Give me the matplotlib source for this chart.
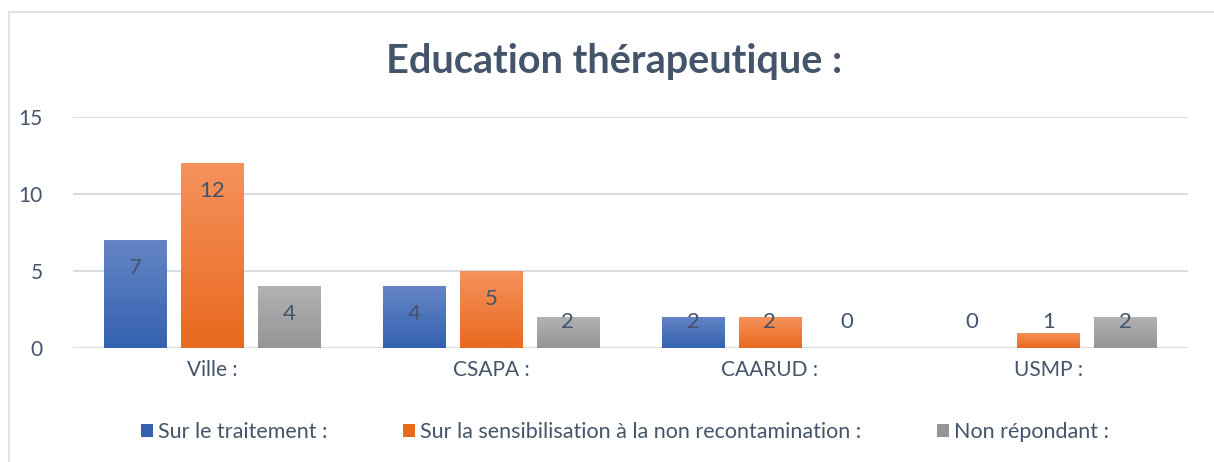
import numpy as np
import matplotlib.pyplot as plt
from matplotlib.patches import Rectangle, Patch
from matplotlib.colors import LinearSegmentedColormap

plt.rcParams['font.family'] = ['Lato', 'DejaVu Sans']

categories = ['Ville :', 'CSAPA :', 'CAARUD :', 'USMP :']
series_names = ['Sur le traitement :',
                'Sur la sensibilisation à la non recontamination :',
                'Non répondant :']
traitement = [7, 4, 2, 0]
sensibilisation = [12, 5, 2, 1]
non_repondant = [4, 2, 0, 2]
series = [traitement, sensibilisation, non_repondant]

# couleurs haut / bas du dégradé
grads = [('#6584C6', '#3462B0'), ('#F5925C', '#E9691F'), ('#B2B2B4', '#959597')]
solid = ['#4472C4', '#ED7D31', '#A5A5A5']
txt = '#44546A'

fig = plt.figure(figsize=(12.14, 4.62), dpi=100)
fig.patches.append(Rectangle((9 / 1214, -0.1), 1.1, (462 - 12) / 462 + 0.1,
                             transform=fig.transFigure, fill=False,
                             edgecolor='#D9DDE3', linewidth=1.2))
ax = fig.add_axes([73 / 1214, 1 - 348 / 462, 1115 / 1214, 231 / 462])

x = np.arange(len(categories))
w = 0.225
off = 0.2755
for i, vals in enumerate(series):
    bars = ax.bar(x + (i - 1) * off, vals, w, color=solid[i], zorder=2)
    cmap = LinearSegmentedColormap.from_list('g%d' % i, [grads[i][1], grads[i][0]])
    for b, v in zip(bars, vals):
        if v == 0:
            continue
        b.set_facecolor('none')
        im = ax.imshow(np.linspace(0, 1, 64).reshape(-1, 1), cmap=cmap,
                       aspect='auto', origin='lower', zorder=2,
                       extent=[b.get_x(), b.get_x() + b.get_width(), 0, v])
        im.set_clip_path(b)
    for b, v in zip(bars, vals):
        ypos = max(v - 1.8, 1.7)
        ax.text(b.get_x() + b.get_width() / 2, ypos, str(v),
                ha='center', va='center', fontsize=16, color=txt, zorder=3)

ax.set_xlim(-0.5, 3.5)
ax.set_ylim(0, 15)
ax.set_yticks([0, 5, 10, 15])
ax.set_xticks(x)
ax.set_xticklabels(categories)
ax.tick_params(length=0, labelsize=15, labelcolor=txt, pad=9)
ax.tick_params(axis='y', pad=22)
ax.grid(axis='y', color='#D9DDE3', linewidth=1.5, zorder=0)
for s in ax.spines.values():
    s.set_visible(False)

fig.text(614 / 1214, 1 - 61 / 462, 'Education thérapeutique :', ha='center',
         va='center', fontsize=28.5, fontweight='bold', color=txt)

handles = [Patch(facecolor=grads[i][1], label=series_names[i]) for i in range(3)]
fig.legend(handles=handles, loc='center', bbox_to_anchor=(625 / 1214, 1 - 432 / 462),
           ncol=3, frameon=False, fontsize=15.5, labelcolor=txt, handlelength=0.55,
           handleheight=0.55, handletextpad=0.25, columnspacing=3.5)

fig.savefig('out.png', dpi=100)
